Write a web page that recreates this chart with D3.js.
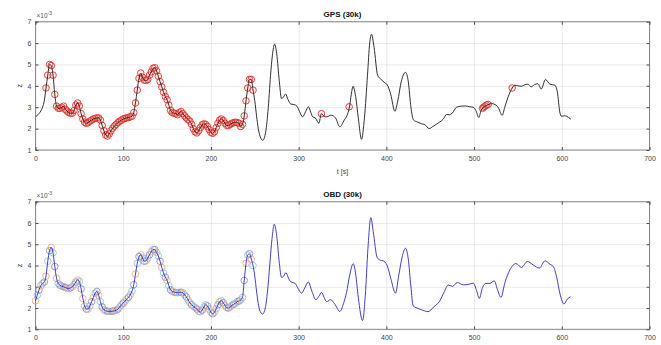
<!DOCTYPE html>
<html><head><meta charset="utf-8">
<script src="https://cdn.jsdelivr.net/npm/d3@7"></script>
<style>
html,body{margin:0;padding:0;background:#fff;}
svg{display:block;font-family:"Liberation Sans",Arial,sans-serif;}
</style></head>
<body><svg id="c" width="661" height="345"></svg>
<script>
// ---------- data ----------
const xTicks = [0,100,200,300,400,500,600,700];
const yTicks = [1,2,3,4,5,6,7];
const titles = ["GPS (30k)", "OBD (30k)"];
const xLabel = "t [s]";
const yLabel = "z";

// dense sampling (every 2 s) over the matched part 0..248 s
const denseT = d3.range(0, 249, 2);
const gpsDenseZ = [2.55,2.62,2.7,2.82,3.0,3.3,3.9,4.5,5.0,4.95,4.5,3.6,3.05,2.95,2.95,3.0,3.05,2.9,2.82,2.75,
 2.72,2.72,2.85,3.1,3.2,3.05,2.7,2.45,2.3,2.25,2.28,2.35,2.4,2.45,2.48,2.5,2.5,2.4,2.15,1.9,
 1.7,1.65,1.75,1.9,2.02,2.12,2.2,2.28,2.35,2.4,2.45,2.48,2.5,2.52,2.55,2.58,2.75,3.2,3.8,4.35,
 4.6,4.4,4.27,4.25,4.3,4.5,4.65,4.82,4.85,4.7,4.45,4.2,3.95,3.7,3.5,3.35,3.1,2.85,2.75,2.72,
 2.7,2.65,2.75,2.8,2.7,2.6,2.5,2.42,2.35,2.2,2.0,1.85,1.8,1.9,2.05,2.18,2.22,2.2,2.1,1.95,
 1.82,1.78,1.85,2.05,2.25,2.4,2.45,2.38,2.25,2.15,2.15,2.2,2.25,2.28,2.3,2.28,2.25,2.1,2.2,2.6,
 3.3,3.9,4.3,4.3,3.8];
const gpsTailT = [250,252,254,256,259,262,265,268,270,272.6,275,278,280.5,283,285,288,291,295,298,301,304.5,308,311,314,316,319,323,326,329,332,337,342,347,352,355,358,360,362,365,368,371.7,375,378.5,381,383,386,390,394,398,401,405,409.7,413,417,421.8,425,428,431,436,440,444,448.8,453,457,461,465,468.6,472,475,480,485,490,495,499,502,505.4,508,511,515,520,525,528,532,535,538.8,543.4,546.4,550,554,558,561.6,565,569,572.8,576.6,581.4,586.4,592,595,597.7,599.6,603,605.3,610.3];
const gpsTailZ = [3.3,2.6,2.0,1.65,1.45,1.75,2.8,4.5,5.4,5.95,5.5,4.2,3.4,3.5,3.62,3.35,3.15,3.12,3.05,2.8,2.55,2.8,3.02,2.75,2.55,2.5,2.25,2.7,2.58,2.55,2.63,2.5,2.08,2.4,2.6,3.02,3.6,3.98,3.5,2.5,1.5,2.5,4.5,6.0,6.41,5.8,4.5,4.3,4.15,4.05,3.6,2.81,3.3,4.2,4.63,4.2,3.0,2.4,2.3,2.23,2.18,2.0,2.1,2.2,2.31,2.45,2.66,2.65,2.72,3.0,3.05,3.06,3.02,3.0,2.85,2.52,2.85,3.0,3.1,3.17,3.1,2.95,2.62,3.0,3.48,3.9,4.03,4.0,3.98,4.05,4.08,3.95,4.06,4.1,3.85,4.3,4.08,4.03,3.7,2.78,2.58,2.6,2.58,2.44];
const gpsExtraT = [326,357.6,509.6,511,512.5,514,516,543.4];
const gpsExtraZ = [2.7,3.02,2.95,3.0,3.05,3.1,3.13,3.9];
const gpsMatchRange = [12,248];

const obdDenseZ = [2.34,2.6,2.85,3.05,3.15,3.22,3.5,4.2,4.7,4.85,4.6,3.95,3.4,3.15,3.07,3.02,3.0,2.97,2.93,2.92,
 2.95,3.0,3.1,3.22,3.32,3.25,2.9,2.45,2.1,1.95,1.95,2.1,2.3,2.5,2.7,2.78,2.6,2.3,2.05,1.92,
 1.87,1.85,1.84,1.84,1.85,1.87,1.9,1.95,2.05,2.15,2.23,2.32,2.42,2.5,2.62,2.8,3.1,3.6,4.1,4.42,
 4.5,4.35,4.2,4.22,4.35,4.5,4.65,4.75,4.75,4.62,4.45,4.2,3.9,3.65,3.45,3.3,3.05,2.85,2.78,2.75,
 2.73,2.72,2.74,2.74,2.72,2.62,2.52,2.38,2.24,2.15,2.08,2.02,1.95,1.85,1.82,1.9,2.05,2.15,2.1,1.95,
 1.8,1.73,1.8,1.97,2.15,2.3,2.34,2.25,2.12,2.02,2.0,2.05,2.13,2.18,2.23,2.3,2.33,2.38,2.5,3.3,
 4.1,4.5,4.55,4.3,4.0];
const obdTailT = [250,252,254,256,258.9,262,265,268,270,272.2,275,278,280.5,283,285.5,288,290,293,295.7,299,303.3,307,311,315,319.7,323,326.1,329,331.8,336.4,341,347,351,354.6,358,362.2,365,368,372.9,376,379,382.3,385,389.5,393,396.3,400.9,405,410.4,414,418,421.8,425,428,430.5,435,440,447.6,454,461,465.6,470.5,475.5,480.8,487.7,493.4,499.1,502.9,505.9,509.7,513.5,518.1,523,526.5,530.7,535.2,540.9,547.8,554.2,560.7,567.6,574.4,580.9,586.6,590.4,594.2,598,602.5,606.3,610.1];
const obdTailZ = [3.5,2.8,2.2,1.85,1.72,2.0,3.0,4.5,5.4,5.94,5.4,4.1,3.44,3.5,3.67,3.45,3.28,3.2,3.17,2.95,2.7,2.95,3.23,2.8,2.39,2.55,2.73,2.5,2.3,2.39,2.2,1.84,2.2,2.73,3.5,4.09,3.6,2.5,1.41,2.6,4.8,6.25,5.6,4.38,4.25,4.22,4.0,3.4,2.7,3.5,4.4,4.81,4.3,3.0,2.11,2.0,1.92,1.83,2.05,2.34,2.73,3.08,3.02,3.2,3.09,3.11,3.17,2.81,2.45,2.97,3.16,3.16,3.28,2.89,2.5,3.2,3.8,4.09,3.91,4.19,4.02,3.88,4.22,4.06,3.95,3.44,2.66,2.19,2.42,2.53];
const obdMatchRange = [0,248];
const obdMarkerColors = ["#f0a272","#7cc2e8","#8b80cc"];

// ---------- build ----------
const gps = denseT.map((t,i)=>({t, z:gpsDenseZ[i]})).concat(gpsTailT.map((t,i)=>({t, z:gpsTailZ[i]})));
const obd = denseT.map((t,i)=>({t, z:obdDenseZ[i]})).concat(obdTailT.map((t,i)=>({t, z:obdTailZ[i]})));
const gpsExtra = gpsExtraT.map((t,i)=>({t, z:gpsExtraZ[i]}));

const svg = d3.select("#c");
const x = d3.scaleLinear().domain([0,700]).range([35.5,649.5]);

const panels = [
  {top:21.7, bottom:150, title:titles[0], showXLabel:true},
  {top:201.7, bottom:329.3, title:titles[1], showXLabel:false}
];

panels.forEach((p, k) => {
  const y = d3.scaleLinear().domain([1,7]).range([p.bottom, p.top]);
  p.y = y;
  const h = p.bottom - p.top;
  const g = svg.append("g");

  // grid
  g.append("g").attr("transform",`translate(0,${p.bottom})`)
    .call(d3.axisBottom(x).tickValues(xTicks).tickSize(-h).tickFormat(""))
    .call(s=>{s.select(".domain").remove(); s.selectAll("line").attr("stroke","#e3e3e3").attr("stroke-width",0.8);});
  g.append("g").attr("transform",`translate(${x(0)},0)`)
    .call(d3.axisLeft(y).tickValues(yTicks).tickSize(-(x(700)-x(0))).tickFormat(""))
    .call(s=>{s.select(".domain").remove(); s.selectAll("line").attr("stroke","#e3e3e3").attr("stroke-width",0.8);});

  // frame
  g.append("rect").attr("x",x(0)).attr("y",p.top).attr("width",x(700)-x(0)).attr("height",h)
    .attr("fill","none").attr("stroke","#8a8a8a").attr("stroke-width",1);

  // axes with ticks
  const styleAx = s => {
    s.select(".domain").remove();
    s.selectAll("line").attr("stroke","#3a3a3a").attr("stroke-width",0.9);
    s.selectAll("text").attr("fill","#444").attr("font-size","7px");
  };
  const fmt = d3.format("d");
  g.append("g").attr("transform",`translate(0,${p.bottom})`)
    .call(d3.axisBottom(x).tickValues(xTicks).tickSize(-3).tickPadding(6).tickFormat(fmt)).call(styleAx);
  g.append("g").attr("transform",`translate(0,${p.top})`)
    .call(d3.axisTop(x).tickValues(xTicks).tickSize(-3).tickFormat("")).call(styleAx);
  g.append("g").attr("transform",`translate(${x(0)},0)`)
    .call(d3.axisLeft(y).tickValues(yTicks).tickSize(-3).tickPadding(4).tickFormat(fmt)).call(styleAx);
  g.append("g").attr("transform",`translate(${x(700)},0)`)
    .call(d3.axisRight(y).tickValues(yTicks).tickSize(-3).tickFormat("")).call(styleAx);

  // exponent label
  const ex = g.append("text").attr("x",x(0)+1).attr("y",p.top-4).attr("font-size","6.5px").attr("fill","#555");
  ex.append("tspan").text("×10");
  ex.append("tspan").attr("dy",-3).attr("font-size","5px").text("-3");

  // y label
  g.append("text").attr("transform",`translate(22,${(p.top+p.bottom)/2}) rotate(-90)`)
    .attr("text-anchor","middle").attr("font-size","7px").attr("fill","#333").text(yLabel);

  // title
  g.append("text").attr("x",(x(0)+x(700))/2).attr("y",p.top-5).attr("text-anchor","middle")
    .attr("font-size","8px").attr("font-weight","bold").attr("fill","#111").text(p.title);

  if (p.showXLabel) {
    g.append("text").attr("x",(x(0)+x(700))/2).attr("y",p.bottom+24).attr("text-anchor","middle")
      .attr("font-size","7px").attr("fill","#444").text(xLabel);
  }
});

// ---------- top: GPS ----------
const y1 = panels[0].y, y2 = panels[1].y;
const line1 = d3.line().x(d=>x(d.t)).y(d=>y1(d.z)).curve(d3.curveMonotoneX);
const line2 = d3.line().x(d=>x(d.t)).y(d=>y2(d.z)).curve(d3.curveMonotoneX);

const gpsMatched = gps.filter(d=>d.t>=gpsMatchRange[0] && d.t<=gpsMatchRange[1]).concat(gpsExtra);
svg.append("g").selectAll("circle").data(gpsMatched).join("circle")
  .attr("cx",d=>x(d.t)).attr("cy",d=>y1(d.z)).attr("r",3.3)
  .attr("fill","rgba(255,170,170,0.2)").attr("stroke","#e02a22").attr("stroke-width",1).attr("stroke-opacity",0.85);
svg.append("path").datum(gps).attr("d",line1).attr("fill","none").attr("stroke","#1a1a1a").attr("stroke-width",0.9);

// ---------- bottom: OBD ----------
const obdMatched = obd.filter(d=>d.t>=obdMatchRange[0] && d.t<=obdMatchRange[1]);
svg.append("g").selectAll("circle").data(obdMatched).join("circle")
  .attr("cx",d=>x(d.t)).attr("cy",d=>y2(d.z)).attr("r",3.3)
  .attr("fill","none").attr("stroke",(d,i)=>obdMarkerColors[i%3]).attr("stroke-width",0.9).attr("stroke-opacity",0.9);
svg.append("path").datum(obd).attr("d",line2).attr("fill","none").attr("stroke","#2a2ab8").attr("stroke-width",0.9);
</script>
</body></html>
